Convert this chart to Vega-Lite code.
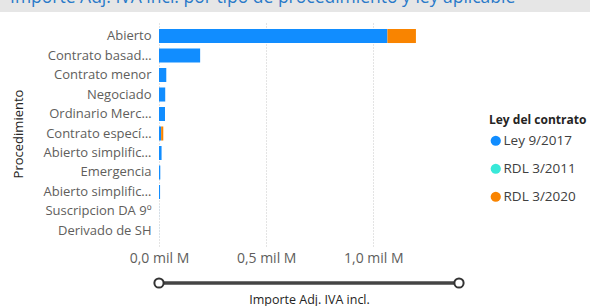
{
  "$schema": "https://vega.github.io/schema/vega-lite/v6.json",
  "padding": 0,
  "background": "white",
  "config": {
    "view": {"stroke": null},
    "font": "Open Sans"
  },
  "spacing": 9,
  "vconcat": [
    {
      "width": 590,
      "height": 12,
      "view": {"fill": "#E6E6E6", "stroke": null},
      "data": {"values": [{"t": "Importe Adj. IVA incl. por tipo de procedimiento y ley aplicable"}]},
      "mark": {"type": "text", "clip": true, "align": "left", "baseline": "alphabetic", "dx": 10, "dy": -3, "font": "Open Sans", "fontSize": 17.5, "color": "#2A7AC9"},
      "encoding": {
        "text": {"field": "t"},
        "x": {"datum": 0, "type": "quantitative", "scale": {"domain": [0, 1]}, "axis": null}
      }
    },
    {
      "width": 459,
      "height": 225,
      "data": {"values": [
        {"proc": "Abierto", "ley": "Ley 9/2017", "importe": 1.066},
        {"proc": "Abierto", "ley": "RDL 3/2020", "importe": 0.133},
        {"proc": "Contrato basado en acuerdo marco", "ley": "Ley 9/2017", "importe": 0.192},
        {"proc": "Contrato menor", "ley": "Ley 9/2017", "importe": 0.034},
        {"proc": "Negociado", "ley": "Ley 9/2017", "importe": 0.029},
        {"proc": "Ordinario Mercado", "ley": "Ley 9/2017", "importe": 0.028},
        {"proc": "Contrato específico", "ley": "Ley 9/2017", "importe": 0.010},
        {"proc": "Contrato específico", "ley": "RDL 3/2020", "importe": 0.010},
        {"proc": "Abierto simplificado", "ley": "Ley 9/2017", "importe": 0.012},
        {"proc": "Emergencia", "ley": "Ley 9/2017", "importe": 0.006},
        {"proc": "Abierto simplificado abreviado", "ley": "Ley 9/2017", "importe": 0.005},
        {"proc": "Suscripcion DA 9º", "ley": "Ley 9/2017", "importe": 0.0003},
        {"proc": "Derivado de SH", "ley": "Ley 9/2017", "importe": 0.0002}
      ]},
      "mark": {"type": "bar"},
      "encoding": {
        "y": {
          "field": "proc", "type": "nominal",
          "sort": ["Abierto", "Contrato basado en acuerdo marco", "Contrato menor", "Negociado", "Ordinario Mercado", "Contrato específico", "Abierto simplificado", "Emergencia", "Abierto simplificado abreviado", "Suscripcion DA 9º", "Derivado de SH"],
          "scale": {"paddingInner": 0.28, "paddingOuter": 0.41},
          "axis": {
            "title": "Procedimiento",
            "titleFontSize": 13,
            "titleFontWeight": "normal",
            "titleColor": "#252423",
            "titleFont": "Open Sans",
            "titlePadding": 6,
            "minExtent": 128,
            "maxExtent": 128,
            "offset": -159,
            "ticks": false,
            "domain": false,
            "labelPadding": 8,
            "labelLimit": 108,
            "labelFontSize": 13,
            "labelFont": "Open Sans",
            "labelColor": "#605E5C"
          }
        },
        "x": {
          "field": "importe", "type": "quantitative",
          "scale": {"domain": [0, 1.4], "nice": false, "range": [159, 459]},
          "axis": {
            "values": [0, 0.5, 1],
            "labelExpr": "replace(format(datum.value, '.1f'), '.', ',') + ' mil M'",
            "labelFlush": false,
            "grid": true,
            "gridDash": [1, 2],
            "gridColor": "#C8C8C8",
            "ticks": false,
            "domain": false,
            "title": null,
            "labelPadding": 5,
            "labelFontSize": 14,
            "labelFont": "Open Sans",
            "labelColor": "#605E5C"
          }
        },
        "color": {
          "field": "ley", "type": "nominal",
          "scale": {"domain": ["Ley 9/2017", "RDL 3/2011", "RDL 3/2020"], "range": ["#118DFF", "#38E8D8", "#F98400"]},
          "legend": {
            "title": "Ley del contrato",
            "orient": "none",
            "legendX": 489,
            "legendY": 115,
            "symbolType": "circle",
            "symbolSize": 105,
            "symbolStrokeWidth": 0,
            "labelFontSize": 13.5,
            "labelFont": "Open Sans",
            "labelColor": "#404040",
            "labelOffset": 1,
            "titleFontSize": 12,
            "titleFont": "Open Sans",
            "titleFontWeight": "bold",
            "titleColor": "#252423",
            "titlePadding": 7,
            "rowPadding": 13
          }
        }
      }
    },
    {
      "width": 459,
      "height": 12,
      "layer": [
        {
          "data": {"values": [{"lo": 0, "hi": 1.4}]},
          "mark": {"type": "rule", "color": "#444444", "strokeWidth": 3.5},
          "encoding": {
            "x": {
              "field": "lo", "type": "quantitative",
              "scale": {"domain": [0, 1.4], "nice": false, "range": [159, 459]},
              "axis": {
                "title": "Importe Adj. IVA incl.",
                "labels": false, "ticks": false, "domain": false, "grid": false,
                "titlePadding": 4,
                "titleFontSize": 12.5,
                "titleFont": "Open Sans",
                "titleFontWeight": "normal",
                "titleColor": "#252423"
              }
            },
            "x2": {"field": "hi"}
          }
        },
        {
          "data": {"values": [{"v": 0}, {"v": 1.4}]},
          "mark": {"type": "point", "filled": true, "fill": "#FFFFFF", "stroke": "#333333", "strokeWidth": 2, "size": 85, "opacity": 1},
          "encoding": {
            "x": {"field": "v", "type": "quantitative"}
          }
        }
      ]
    }
  ],
  "resolve": {"scale": {"x": "independent"}}
}
